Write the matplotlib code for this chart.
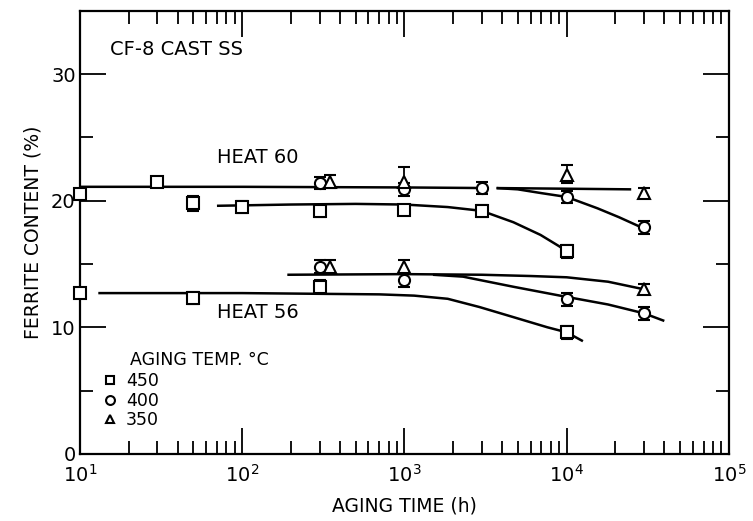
import matplotlib
matplotlib.use("Agg")
import matplotlib.pyplot as plt
from matplotlib.ticker import FixedLocator, LogLocator, NullFormatter

plt.rcParams["font.family"] = ["DejaVu Sans"]

# Heat 60 measurements (aging time in h, ferrite %, error bar low / high)
H60_450_T = [10, 30, 50, 100, 300, 1000, 3000, 10000]
H60_450_V = [20.5, 21.5, 19.8, 19.5, 19.2, 19.3, 19.2, 16.0]
H60_450_LO = [0.3, 0.3, 0.6, 0.5, 0.5, 0.4, 0.5, 0.5]
H60_450_HI = [0.3, 0.3, 0.6, 0.5, 0.5, 0.4, 0.5, 0.5]

H60_400_T = [300, 1000, 3000, 10000, 30000]
H60_400_V = [21.4, 20.9, 21.0, 20.3, 17.9]
H60_400_LO = [0.5, 0.5, 0.5, 0.5, 0.5]
H60_400_HI = [0.5, 0.5, 0.5, 0.5, 0.5]

H60_350_T = [350, 1000, 10000, 30000]
H60_350_V = [21.5, 21.5, 22.0, 20.6]
H60_350_LO = [0.5, 0.5, 0.6, 0.4]
H60_350_HI = [0.5, 1.2, 0.8, 0.4]

# Heat 56 measurements
H56_450_T = [10, 50, 300, 10000]
H56_450_V = [12.7, 12.3, 13.2, 9.6]
H56_450_LO = [0.4, 0.5, 0.5, 0.5]
H56_450_HI = [0.4, 0.5, 0.5, 0.5]

H56_400_T = [300, 1000, 10000, 30000]
H56_400_V = [14.8, 13.7, 12.2, 11.1]
H56_400_LO = [0.5, 0.5, 0.5, 0.5]
H56_400_HI = [0.5, 0.5, 0.5, 0.5]

H56_350_T = [350, 1000, 30000]
H56_350_V = [14.8, 14.8, 13.0]
H56_350_LO = [0.5, 0.5, 0.4]
H56_350_HI = [0.5, 0.5, 0.4]

# hand-drawn trend curves, read as knots along each line
CURVES = [
    ([10, 100, 1000, 3300], [21.1, 21.1, 21.05, 21.0]),
    ([3700, 10000, 25000], [21.0, 20.95, 20.9]),
    ([3700, 5000, 7000, 10000, 15500, 21000, 30000],
     [21.0, 20.9, 20.6, 20.3, 19.4, 18.7, 17.8]),
    ([70, 200, 500, 1000, 1850, 3000, 4700, 6900, 9000, 10000],
     [19.6, 19.7, 19.75, 19.7, 19.5, 19.2, 18.3, 17.3, 16.4, 16.0]),
    ([190, 1000, 3000, 6000, 10000, 18000, 30000],
     [14.15, 14.2, 14.15, 14.05, 13.95, 13.6, 13.0]),
    ([1500, 2300, 4700, 10000, 18000, 30000, 40000],
     [14.15, 14.0, 13.2, 12.4, 11.8, 11.1, 10.5]),
    ([13, 100, 700, 1150, 1850, 2900, 4700, 7600, 10000, 12600],
     [12.7, 12.7, 12.6, 12.5, 12.25, 11.6, 10.8, 10.0, 9.6, 8.9]),
]

TEMP_LABELS = ["450", "400", "350"]


def draw_series(ax, t, v, lo, hi, marker):
    cont = ax.errorbar(
        t, v, yerr=[lo, hi], fmt=marker, ms=8, mfc="white", mec="black",
        mew=1.5, ecolor="black", elinewidth=1.3, capsize=4, capthick=1.3,
        zorder=3,
    )
    for art in cont.get_children():
        art.set_clip_on(False)
    return cont


def main():
    fig = plt.figure(figsize=(7.53, 5.21), dpi=100)
    ax = fig.add_axes([0.106, 0.129, 0.862, 0.850])

    for t, v in CURVES:
        ax.plot(t, v, color="black", lw=1.8, solid_capstyle="butt", zorder=2)

    handles = []
    h = draw_series(ax, H60_450_T, H60_450_V, H60_450_LO, H60_450_HI, "s")
    handles.append(h[0])
    h = draw_series(ax, H60_400_T, H60_400_V, H60_400_LO, H60_400_HI, "o")
    handles.append(h[0])
    h = draw_series(ax, H60_350_T, H60_350_V, H60_350_LO, H60_350_HI, "^")
    handles.append(h[0])
    draw_series(ax, H56_450_T, H56_450_V, H56_450_LO, H56_450_HI, "s")
    draw_series(ax, H56_400_T, H56_400_V, H56_400_LO, H56_400_HI, "o")
    draw_series(ax, H56_350_T, H56_350_V, H56_350_LO, H56_350_HI, "^")

    ax.set_xscale("log")
    ax.set_xlim(10, 1e5)
    ax.set_ylim(0, 35)
    ax.yaxis.set_major_locator(FixedLocator([0, 10, 20, 30]))
    ax.yaxis.set_minor_locator(FixedLocator([5, 15, 25]))
    ax.xaxis.set_major_locator(LogLocator(base=10, numticks=10))
    ax.xaxis.set_minor_locator(LogLocator(base=10, subs=range(2, 10), numticks=20))
    ax.xaxis.set_minor_formatter(NullFormatter())

    ax.tick_params(which="both", direction="in", top=True, right=True,
                   width=1.3, labelsize=14)
    ax.tick_params(which="major", length=19)
    ax.tick_params(which="minor", length=9.5)
    ax.tick_params(axis="x", which="major", pad=7)
    ax.tick_params(axis="y", which="major", pad=3)
    for s in ax.spines.values():
        s.set_linewidth(1.6)

    ax.set_xlabel("AGING TIME (h)", fontsize=13.5, labelpad=8)
    ax.set_ylabel("FERRITE CONTENT (%)", fontsize=13.5, labelpad=6)

    ax.text(0.046, 0.912, "CF-8 CAST SS", transform=ax.transAxes,
            fontsize=14, va="center", ha="left")
    ax.text(0.211, 0.670, "HEAT 60", transform=ax.transAxes,
            fontsize=14, va="center", ha="left")
    ax.text(0.211, 0.318, "HEAT 56", transform=ax.transAxes,
            fontsize=14, va="center", ha="left")

    # legend: heading sits over the temperature numbers, markers to its left
    ax.text(0.077, 0.212, "AGING TEMP. \u00b0C", transform=ax.transAxes,
            fontsize=12.5, va="center", ha="left")
    ax.legend(handles, TEMP_LABELS,
              loc="upper left", bbox_to_anchor=(0.035, 0.185),
              frameon=False, fontsize=12.5,
              handlelength=0.9, handletextpad=0.45,
              labelspacing=0.1, borderpad=0, borderaxespad=0,
              markerscale=0.8)

    fig.savefig("out.png", dpi=100)
    plt.close(fig)


if __name__ == "__main__":
    main()
